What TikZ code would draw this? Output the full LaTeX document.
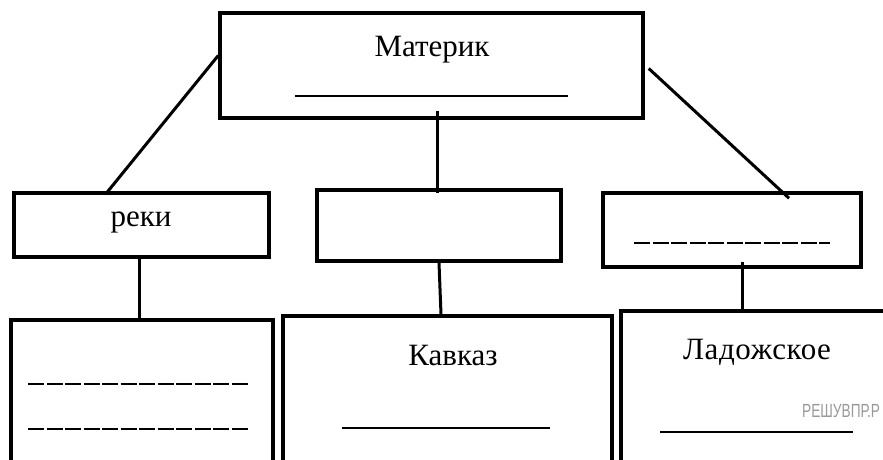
\documentclass[tikz,border=0pt]{standalone}
\usepackage{fontspec}
\setmainfont{Liberation Serif}
\newfontfamily\wmfont{Liberation Sans}
\begin{document}
\begin{tikzpicture}[x=1pt,y=-1pt,
  box/.style={draw=black,line width=3.5pt,fill=white,inner sep=0pt},
  conn/.style={line width=3pt},
  uline/.style={line width=2pt},
  dline/.style={line width=2pt,dash pattern=on 16pt off 2.5pt},
  lbl/.style={font=\fontsize{31}{34}\selectfont,inner sep=0pt}]
\useasboundingbox (0,0) rectangle (883,459);
\clip (0,0) rectangle (883,459);
\fill[white] (0,0) rectangle (883,459);
% boxes
\node[box,minimum width=423pt,minimum height=105pt] (top) at (431.5,65.5) {};
\draw[line width=2pt] (452,12) -- (643,12);
\node[box,minimum width=255pt,minimum height=64pt] (reki) at (141.5,225) {};
\node[box,minimum width=244pt,minimum height=71pt] (mid) at (439,225.5) {};
\node[box,minimum width=258pt,minimum height=74pt] (right) at (732,230) {};
\node[box,minimum width=262pt,minimum height=160pt] (bl) at (142,400) {};
\node[box,minimum width=329pt,minimum height=160pt] (bm) at (447.5,396) {};
\node[box,minimum width=270pt,minimum height=170pt] (br) at (756,396) {};
% texts
\node[lbl] (t1) at (432,50) {Материк};
\draw[uline] (295,96) coordinate (u1a) -- (568,96) coordinate (u1b);
\node[lbl] (t2) at (141,222) {реки};
\draw[dline] (634,243) coordinate (d1a) -- (830,243) coordinate (d1b);
\draw[dline] (28,384) coordinate (d2a) -- (248,384) coordinate (d2b);
\draw[dline] (28,429) coordinate (d3a) -- (248,429) coordinate (d3b);
\node[lbl] (t3) at (453,355) {Кавказ};
\draw[uline] (342,428) coordinate (u2a) -- (550,428) coordinate (u2b);
\node[lbl,font=\fontsize{31}{34}\selectfont\addfontfeature{LetterSpace=2}] (t4) at (757,352) {Ладожское};
\draw[uline] (660,432) coordinate (u3a) -- (853,432) coordinate (u3b);
\node[anchor=west,inner sep=0pt,text=black!40,xscale=0.72,font=\wmfont\fontsize{19}{20}\selectfont] (wm) at (802,411) {РЕШУВПР.Р};
% connectors
\draw[conn] ([yshift=10pt]top.west) -- ([xshift=-36pt,yshift=-3pt]reki.north);
\draw[conn] ([xshift=5.5pt,yshift=9pt]top.south) -- ([xshift=-2pt,yshift=-5pt]mid.north);
\draw[conn] ([xshift=4pt,yshift=-3pt]top.east) -- ([xshift=57pt,yshift=-7pt]right.north);
\draw[conn] ([xshift=-2.5pt]reki.south) -- ([xshift=-3pt]bl.north);
\draw[conn] (mid.south) -- ([xshift=-6.5pt]bm.north);
\draw[conn] ([xshift=10pt,yshift=7pt]right.south) -- ([xshift=-14pt,yshift=-3pt]br.north);
\end{tikzpicture}
\end{document}
